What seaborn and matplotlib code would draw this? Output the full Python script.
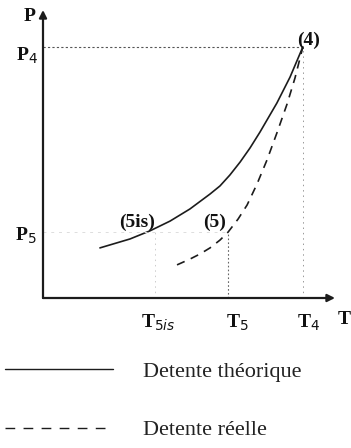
import matplotlib
matplotlib.use("Agg")
import matplotlib.pyplot as plt
import seaborn as sns
import pandas as pd

sns.set_theme(style="white")
plt.rcParams["font.family"] = ["Liberation Serif", "DejaVu Serif"]

# Isentropic (theoretical) expansion curve, T (arbitrary units) vs P
theo_T = [1.95, 2.98, 3.66, 4.35, 5.03, 5.72, 6.06, 6.40, 6.75, 7.09, 7.43, 8.01, 8.46, 8.90]
theo_P = [1.74, 2.05, 2.33, 2.67, 3.09, 3.61, 3.89, 4.27, 4.72, 5.21, 5.76, 6.77, 7.67, 8.72]

# Real expansion curve
real_T = [4.59, 5.03, 5.38, 5.72, 6.06, 6.34, 6.68, 6.99, 7.33, 7.67, 8.01, 8.36, 8.63, 8.90]
real_P = [1.15, 1.35, 1.53, 1.74, 2.01, 2.29, 2.74, 3.23, 3.96, 4.79, 5.73, 6.74, 7.64, 8.72]

# Characteristic states
T4, P4 = 8.90, 8.72
T5, P5 = 6.34, 2.29
T5is = 3.84

x_tick_labels = ["T$_{5is}$", "T$_5$", "T$_4$"]
legend_labels = ["Detente théorique", "Detente réelle"]

df = pd.concat([
    pd.DataFrame({"T": theo_T, "P": theo_P, "curve": legend_labels[0]}),
    pd.DataFrame({"T": real_T, "P": real_P, "curve": legend_labels[1]}),
])

fig = plt.figure(figsize=(3.51, 4.48), dpi=100)
ax = fig.add_axes([43 / 351, 150 / 448, 292 / 351, 288 / 448])
ax.set_xlim(0, 10)
ax.set_ylim(0, 10)

ink = "#1c1c1c"
sns.lineplot(data=df, x="T", y="P", style="curve", hue="curve",
             palette=[ink, ink],
             dashes={legend_labels[0]: "", legend_labels[1]: (5, 4)},
             linewidth=1.2, sort=False, ax=ax, legend=True)

# guide lines
ax.plot([0, T4], [P4, P4], color="#555555", linewidth=0.8, linestyle=(0, (2, 2)))
ax.plot([T4, T4], [0, P4], color="#999999", linewidth=0.7, linestyle=(0, (1.5, 4)))
ax.plot([T5, T5], [0, P5], color="#666666", linewidth=0.8, linestyle=(0, (1.5, 2)))
ax.plot([T5is, T5is], [0, 2.4], color="#cccccc", linewidth=0.7, linestyle=(0, (1.5, 4)))
ax.plot([0, T5], [P5, P5], color="#dddddd", linewidth=0.7, linestyle=(0, (3, 5)))

# axes drawn as arrows
for s in ax.spines.values():
    s.set_visible(False)
ax.set_xticks([])
ax.set_yticks([])
ax.set_xlabel("")
ax.set_ylabel("")
arrow = dict(arrowstyle="-|>", color=ink, lw=1.6, mutation_scale=11, shrinkA=0, shrinkB=0)
ax.annotate("", xy=(0, 10), xytext=(0, 0), arrowprops=arrow, annotation_clip=False)
ax.annotate("", xy=(10, 0), xytext=(0, 0), arrowprops=arrow, annotation_clip=False)

bold = dict(fontweight="bold", color="#111111", fontsize=14, ha="center", va="center")
ax.text(-0.45, 9.76, "P", **bold)
ax.text(10.3, -0.76, "T", **bold)
ax.text(-0.55, 8.40, "P$_4$", **bold)
ax.text(-0.58, 2.15, "P$_5$", **bold)
for xv, dx, lab in zip([T5is, T5, T4], [0.1, 0.3, 0.18], x_tick_labels):
    ax.text(xv + dx, -0.87, lab, **bold)
ax.text(T4 + 0.18, P4 + 0.24, "(4)", **bold)
ax.text(3.22, 2.64, "(5is)", **bold)
ax.text(5.86, 2.64, "(5)", **bold)

fs = 16
px = fs * 100 / 72
leg = ax.legend(loc="center left", bbox_to_anchor=(5 / 351, 1 - 401 / 448),
                bbox_transform=fig.transFigure, frameon=False, fontsize=fs,
                handlelength=108 / px, handletextpad=30 / px, labelspacing=1.7,
                borderpad=0, borderaxespad=0)
for line in leg.get_lines():
    line.set_linewidth(1.0)
leg.get_lines()[1].set_dashes((7, 6))
for t in leg.get_texts():
    t.set_color("#222222")

fig.savefig("out.png", dpi=100)
